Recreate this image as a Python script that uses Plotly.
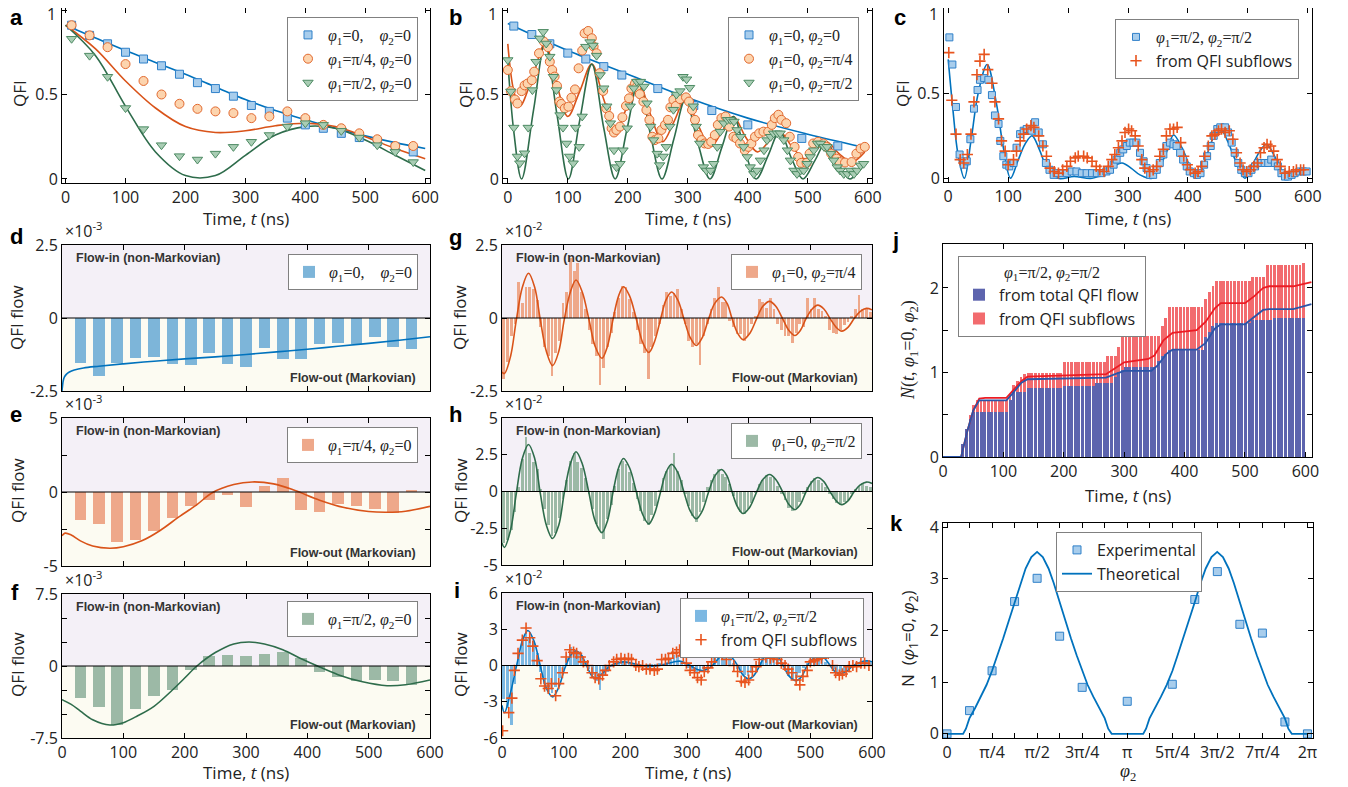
import plotly.graph_objects as go

# ---------------- data ----------------
# (a) QFI vs time, phi2 = 0
a_t = [10, 40, 70, 100, 130, 160, 190, 220, 250, 280, 310, 340, 370, 400, 430, 460, 490, 520, 550, 580]
a_sq = [0.91, 0.85, 0.80, 0.75, 0.71, 0.67, 0.62, 0.57, 0.535, 0.49, 0.435, 0.40, 0.36, 0.32, 0.30, 0.27, 0.245, 0.22, 0.19, 0.16]
a_ci = [0.91, 0.85, 0.78, 0.68, 0.58, 0.50, 0.445, 0.415, 0.40, 0.39, 0.36, 0.37, 0.40, 0.36, 0.32, 0.30, 0.27, 0.235, 0.195, 0.195]
a_tr = [0.83, 0.73, 0.605, 0.42, 0.295, 0.20, 0.135, 0.115, 0.15, 0.19, 0.22, 0.26, 0.31, 0.33, 0.32, 0.285, 0.245, 0.20, 0.16, 0.10]
a_th_t = [0, 50, 100, 150, 200, 250, 300, 350, 400, 450, 500, 550, 600]
a_th_blue = [0.91, 0.835, 0.76, 0.69, 0.62, 0.545, 0.47, 0.405, 0.35, 0.30, 0.255, 0.215, 0.18]
a_th_orange = [0.91, 0.77, 0.58, 0.42, 0.31, 0.275, 0.285, 0.315, 0.33, 0.31, 0.25, 0.18, 0.12]
a_th_green = [0.91, 0.73, 0.43, 0.16, 0.02, 0.02, 0.14, 0.26, 0.31, 0.30, 0.23, 0.14, 0.05]

# (b) QFI vs time, phi1 = 0
b_sq_t = [10, 40, 70, 100, 130, 160, 190, 250, 280, 310, 340, 400, 490, 550]
b_sq = [0.905, 0.855, 0.80, 0.745, 0.71, 0.665, 0.615, 0.535, 0.48, 0.435, 0.405, 0.32, 0.24, 0.195]
b_ci_t = [0, 5, 12, 16, 23, 28, 33, 40, 44, 52, 60, 67, 70, 74, 78, 82, 86, 89, 95, 101,
          106, 112, 118, 124, 128, 134, 140, 143, 148, 153, 159, 164, 169, 173, 177, 181, 187, 191, 197, 202,
          206, 212, 214, 220, 226, 231, 236, 241, 245, 251, 256, 262, 267, 271, 276, 280, 287, 297, 302, 307,
          312, 317, 323, 328, 334, 339, 345, 350, 356, 363, 369, 376, 381, 387, 395, 401, 406, 412, 419, 426,
          434, 440, 445, 451, 456, 464, 470, 478, 484, 489, 498, 503, 509, 517, 526, 531, 539, 548, 553, 562,
          573, 581, 588, 595]
b_ci = [0.645, 0.52, 0.47, 0.447, 0.52, 0.554, 0.565, 0.585, 0.635, 0.744, 0.813, 0.78, 0.694, 0.645, 0.606, 0.551, 0.458, 0.444, 0.418, 0.428,
        0.481, 0.53, 0.655, 0.76, 0.862, 0.876, 0.833, 0.784, 0.744, 0.626, 0.521, 0.418, 0.373, 0.30, 0.275, 0.29, 0.31, 0.365, 0.432, 0.477,
        0.536, 0.565, 0.541, 0.502, 0.458, 0.408, 0.35, 0.25, 0.23, 0.24, 0.29, 0.32, 0.35, 0.424, 0.468, 0.432, 0.473, 0.483, 0.458, 0.408,
        0.35, 0.26, 0.23, 0.21, 0.207, 0.22, 0.26, 0.32, 0.36, 0.37, 0.31, 0.25, 0.24, 0.21, 0.17, 0.19, 0.21, 0.25, 0.27, 0.28,
        0.28, 0.32, 0.36, 0.38, 0.35, 0.33, 0.25, 0.19, 0.13, 0.095, 0.095, 0.15, 0.21, 0.22, 0.21, 0.19, 0.15, 0.12, 0.10, 0.097,
        0.10, 0.15, 0.18, 0.19]
b_tr_t = [0, 5, 10, 16, 20, 28, 34, 41, 47, 53, 59, 64, 70, 76, 81, 87, 92, 98, 103, 109,
          113, 119, 124, 130, 137, 142, 148, 154, 160, 165, 171, 177, 181, 187, 192, 199, 204, 210, 215, 221,
          227, 232, 238, 243, 249, 253, 259, 264, 270, 276, 281, 287, 292, 298, 303, 309, 314, 320, 326, 331,
          338, 343, 349, 354, 360, 366, 371, 377, 382, 388, 393, 399, 404, 410, 415, 421, 427, 432, 438, 443,
          449, 454, 460, 466, 471, 477, 482, 488, 493, 499, 504, 510, 516, 521, 527, 532, 538, 543, 549, 554,
          560, 566, 571, 577, 582, 588, 593]
b_tr = [0.704, 0.518, 0.304, 0.133, 0.093, 0.152, 0.304, 0.526, 0.694, 0.832, 0.871, 0.802, 0.724, 0.605, 0.526, 0.378, 0.304, 0.21, 0.133, 0.093,
        0.304, 0.19, 0.37, 0.783, 0.81, 0.79, 0.73, 0.615, 0.537, 0.43, 0.33, 0.17, 0.07, 0.09, 0.17, 0.30, 0.43, 0.537, 0.576, 0.576,
        0.547, 0.448, 0.31, 0.23, 0.15, 0.082, 0.133, 0.19, 0.31, 0.41, 0.50, 0.52, 0.605, 0.59, 0.54, 0.43, 0.31, 0.21, 0.07, 0.05,
        0.05, 0.09, 0.19, 0.28, 0.33, 0.35, 0.35, 0.34, 0.29, 0.25, 0.19, 0.13, 0.07, 0.03, 0.05, 0.11, 0.17, 0.23, 0.25, 0.27,
        0.27, 0.27, 0.23, 0.17, 0.11, 0.05, 0.03, 0.05, 0.05, 0.09, 0.13, 0.17, 0.21, 0.21, 0.19, 0.19, 0.15, 0.11, 0.07, 0.05,
        0.03, 0.03, 0.05, 0.03, 0.05, 0.08, 0.09]
b_th_blue_t = [0, 100, 200, 300, 400, 500, 590]
b_th_blue = [0.92, 0.76, 0.62, 0.48, 0.36, 0.265, 0.19]
b_th_or_t = [0, 10, 20, 41, 62, 81, 100, 120, 140, 160, 180, 199, 218, 238, 258, 277, 296, 317, 338, 357,
             376, 396, 416, 435, 453, 474, 495, 513, 531, 552, 573, 595]
b_th_or = [0.80, 0.52, 0.43, 0.60, 0.80, 0.57, 0.37, 0.52, 0.68, 0.47, 0.29, 0.43, 0.57, 0.38, 0.22, 0.34, 0.47, 0.32, 0.19, 0.28,
           0.37, 0.25, 0.16, 0.22, 0.28, 0.19, 0.12, 0.17, 0.22, 0.15, 0.10, 0.16]
b_th_gr_t = [0, 10, 23, 43, 62, 82, 101, 120, 140, 160, 179, 199, 218, 238, 257, 277, 296, 317, 337, 357,
             376, 395, 414, 434, 453, 473, 492, 512, 531, 551, 570, 585, 595]
b_th_gr = [0.70, 0.28, 0.0, 0.41, 0.80, 0.38, 0.0, 0.35, 0.68, 0.30, 0.0, 0.30, 0.58, 0.26, 0.0, 0.24, 0.47, 0.21, 0.0, 0.19,
           0.37, 0.17, 0.0, 0.14, 0.28, 0.12, 0.0, 0.11, 0.22, 0.09, 0.0, 0.05, 0.10]

# (c) QFI, phi1 = phi2 = pi/2
c_sq_t = [2, 7, 13, 19, 26, 31, 37, 43, 49, 53, 60, 67, 73, 78, 84, 87, 92, 97, 102, 109,
          114, 120, 126, 131, 139, 145, 151, 158, 163, 169, 176, 181, 190, 198, 206, 214, 223, 231, 240, 248,
          256, 264, 270, 276, 281, 287, 292, 298, 303, 309, 314, 320, 326, 331, 337, 342, 348, 353, 359, 364,
          370, 376, 381, 387, 392, 398, 403, 410, 415, 421, 427, 432, 438, 443, 449, 454, 462, 467, 473, 478,
          484, 489, 495, 501, 506, 512, 517, 523, 528, 534, 539, 545, 550, 556, 562, 567, 573, 578, 586, 592, 598]
c_sq = [0.83, 0.67, 0.42, 0.14, 0.08, 0.10, 0.23, 0.41, 0.52, 0.58, 0.59, 0.58, 0.49, 0.37, 0.32, 0.22, 0.13, 0.08, 0.07, 0.09,
        0.18, 0.26, 0.28, 0.29, 0.28, 0.33, 0.27, 0.20, 0.09, 0.05, 0.02, 0.03, 0.03, 0.03, 0.04, 0.04, 0.03, 0.03, 0.03, 0.03,
        0.03, 0.04, 0.05, 0.08, 0.11, 0.15, 0.17, 0.19, 0.21, 0.21, 0.21, 0.15, 0.10, 0.06, 0.02, 0.02, 0.05, 0.09, 0.14, 0.19,
        0.21, 0.20, 0.19, 0.15, 0.11, 0.07, 0.04, 0.03, 0.02, 0.03, 0.08, 0.13, 0.19, 0.25, 0.29, 0.30, 0.30, 0.27, 0.21, 0.15,
        0.09, 0.05, 0.03, 0.03, 0.05, 0.07, 0.09, 0.09, 0.09, 0.09, 0.11, 0.09, 0.07, 0.03, 0.01, 0.01, 0.02, 0.03, 0.04, 0.04, 0.04]
c_pl_t = [1, 6, 13, 20, 26, 32, 38, 43, 48, 53, 60, 66, 73, 78, 84, 89, 95, 100, 109, 114,
          120, 126, 131, 138, 143, 151, 158, 164, 170, 177, 184, 191, 198, 204, 212, 217, 226, 232, 240, 247,
          253, 260, 267, 273, 278, 284, 290, 295, 301, 306, 312, 317, 323, 328, 336, 342, 348, 353, 359, 364,
          370, 376, 382, 388, 393, 399, 404, 412, 417, 423, 428, 434, 440, 445, 451, 456, 462, 469, 475, 481,
          487, 492, 498, 504, 510, 516, 521, 527, 532, 538, 543, 549, 554, 562, 569, 576, 581, 588, 593]
c_pl = [0.74, 0.46, 0.26, 0.11, 0.09, 0.14, 0.26, 0.45, 0.61, 0.69, 0.73, 0.64, 0.56, 0.45, 0.35, 0.22, 0.16, 0.08, 0.11, 0.16,
        0.22, 0.26, 0.29, 0.31, 0.30, 0.25, 0.19, 0.13, 0.06, 0.04, 0.03, 0.05, 0.07, 0.10, 0.12, 0.13, 0.13, 0.12, 0.10, 0.07,
        0.05, 0.04, 0.07, 0.11, 0.14, 0.18, 0.22, 0.27, 0.29, 0.28, 0.25, 0.19, 0.11, 0.06, 0.04, 0.05, 0.07, 0.13, 0.17, 0.25,
        0.29, 0.29, 0.30, 0.21, 0.13, 0.08, 0.05, 0.03, 0.04, 0.07, 0.13, 0.19, 0.25, 0.26, 0.28, 0.29, 0.27, 0.28, 0.23, 0.15,
        0.09, 0.05, 0.04, 0.05, 0.07, 0.09, 0.15, 0.18, 0.20, 0.19, 0.16, 0.11, 0.07, 0.03, 0.04, 0.04, 0.05, 0.05, 0.05]
c_th_t = [0, 8, 16, 27, 38, 50, 65, 80, 92, 104, 116, 128, 140, 152, 165, 183, 210, 240, 262, 276,
          290, 305, 320, 340, 355, 366, 376, 390, 402, 414, 428, 441, 453, 466, 480, 495, 508, 520, 531, 543,
          555, 566, 580, 598]
c_th = [0.70, 0.40, 0.15, 0.0, 0.22, 0.50, 0.67, 0.45, 0.18, 0.0, 0.10, 0.20, 0.25, 0.17, 0.06, 0.0, 0.01, 0.0, 0.03, 0.07,
        0.09, 0.06, 0.02, 0.0, 0.08, 0.17, 0.255, 0.18, 0.08, 0.0, 0.10, 0.23, 0.30, 0.22, 0.10, 0.0, 0.08, 0.16, 0.20, 0.14,
        0.05, 0.01, 0.02, 0.04]

# (d)-(f) QFI flow, coarse sampling (x1e-3)
def_t = [30, 60, 90, 120, 150, 180, 210, 240, 270, 300, 330, 360, 390, 420, 450, 480, 510, 540, 570]
d_bar = [-1.55, -1.97, -1.55, -1.36, -1.32, -1.59, -1.62, -1.21, -1.59, -1.69, -1.02, -1.40, -1.40, -0.89, -0.87, -0.89, -0.66, -0.98, -1.07]
e_bar = [-1.92, -2.19, -3.40, -3.22, -2.66, -1.74, -0.97, -0.52, -0.23, -1.04, 0.43, 0.95, -1.19, -1.38, -0.79, -0.92, -1.13, -1.42, 0.13]
f_bar = [-3.35, -4.30, -6.10, -4.50, -3.10, -2.50, -0.46, 1.06, 1.16, 1.06, 1.27, 1.48, 0.81, -0.60, -1.13, -1.51, -1.48, -1.58, -1.94]
d_th_t = [0, 1, 2, 4, 7, 12, 20, 35, 60, 100, 150, 200, 250, 300, 350, 400, 450, 500, 550, 600]
d_th = [-2.5, -2.3, -2.15, -2.02, -1.93, -1.85, -1.78, -1.71, -1.65, -1.57, -1.48, -1.40, -1.33, -1.25, -1.16, -1.07, -0.97, -0.87, -0.76, -0.64]
e_th_t = [0, 5, 15, 30, 50, 78, 100, 130, 160, 190, 220, 245, 280, 310, 345, 380, 420, 460, 500, 530, 560, 600]
e_th = [-2.95, -2.78, -2.9, -3.3, -3.65, -3.8, -3.7, -3.3, -2.6, -1.7, -0.85, -0.05, 0.5, 0.68, 0.55, 0.1, -0.55, -1.05, -1.32, -1.37, -1.3, -0.97]
f_th_t = [0, 15, 30, 50, 78, 100, 120, 150, 180, 200, 220, 250, 280, 305, 330, 360, 390, 420, 450, 490, 530, 560, 600]
f_th = [-3.5, -4.0, -4.7, -5.6, -6.15, -5.9, -5.3, -4.2, -2.5, -1.25, 0.0, 1.4, 2.3, 2.5, 2.3, 1.7, 0.75, -0.1, -0.9, -1.65, -2.05, -1.95, -1.45]

# (g)-(i) QFI flow, fine sampling (x1e-2)
t_flow = [3, 9, 15, 21, 27, 33, 39, 45, 51, 57,
          63, 69, 75, 81, 87, 93, 99, 105, 111, 117,
          123, 129, 135, 141, 147, 153, 159, 165, 171, 177,
          183, 189, 195, 201, 207, 213, 219, 225, 231, 237,
          243, 249, 255, 261, 267, 273, 279, 285, 291, 297,
          303, 309, 315, 321, 327, 333, 339, 345, 351, 357,
          363, 369, 375, 381, 387, 393, 399, 405, 411, 417,
          423, 429, 435, 441, 447, 453, 459, 465, 471, 477,
          483, 489, 495, 501, 507, 513, 519, 525, 531, 537,
          543, 549, 555, 561, 567, 573, 579, 585, 591, 597]
g_bar = [-2.1, -1.5, -0.6, -0.2, 1.25, 0.5, 1.05, 1.05, 1.0, 0.6,
         -0.3, -1.0, -1.3, -2.0, -1.2, -0.8, 0.5, 0.9, 2.05, 1.6,
         1.9, 0.9, 0.3, -0.4, -0.9, -1.3, -2.3, -1.7, -1.0, -0.5,
         0.2, 0.7, 1.1, 1.05, 0.65, 0.2, -0.4, -0.9, -1.2, -2.1,
         -1.0, -0.6, -0.2, 0.45, 0.9, 0.75, 0.85, 1.0, 0.3, -0.2,
         -0.8, -1.0, -0.9, -1.6, -0.6, -0.2, 0.3, 0.7, 1.05, 0.55,
         0.55, -0.1, -0.3, -0.55, -0.55, -0.8, -0.6, -0.2, 0.05, 0.65,
         0.55, 0.35, 0.7, 0.3, -0.2, -0.4, -0.6, -0.6, -0.85, -0.5,
         -0.2, -0.3, 0.7, 0.3, 0.7, 0.3, 0.25, 0.05, -0.4, -0.5,
         -0.55, -0.4, -0.25, -0.15, 0.05, 0.3, 0.8, 0.3, 0.35, 0.2]
h_bar = [-3.5, -3.3, -2.6, -1.4, 0.3, 2.2, 3.7, 2.6, 2.0, 1.5,
         0.2, -1.2, -2.3, -3.0, -2.8, -1.8, -0.5, 0.8, 2.1, 2.6,
         2.0, 1.6, 0.9, -0.2, -1.2, -2.2, -2.7, -3.2, -1.9, -0.9,
         0.4, 1.5, 2.1, 1.9, 1.3, 0.6, -0.5, -1.3, -2.0, -2.3,
         -1.6, -1.0, 0.1, 0.9, 1.4, 1.8, 2.6, 1.4, 0.8, -0.2,
         -1.0, -1.7, -2.1, -1.4, -0.7, 0.3, 0.8, 1.2, 1.5, 1.2,
         1.0, 0.5, -0.3, -1.0, -1.4, -1.5, -1.2, -0.8, -0.1, 0.5,
         0.8, 1.1, 1.0, 0.9, 0.4, -0.2, -0.6, -1.1, -1.3, -1.1,
         -0.7, -0.2, 0.3, 0.7, 0.9, 0.8, 0.6, 0.3, -0.2, -0.5,
         -0.8, -0.9, -0.7, -0.6, -0.2, 0.2, 0.4, 0.6, 0.4, 0.3]
i_bar = [-2.8, -3.5, -4.9, -1.5, 1.0, 2.3, 2.8, 2.4, 2.0, 1.0,
         -0.5, -1.5, -2.2, -2.3, -1.8, -1.0, -0.4, 0.6, 1.5, 1.3,
         1.0, 0.9, 0.3, -0.3, -0.8, -1.3, -2.0, -0.9, -0.5, -0.1,
         0.2, 0.3, 0.4, 0.3, 0.2, 0.1, 0.1, 0.0, -0.1, 0.1,
         0.1, 0.1, 0.2, 0.1, 0.3, 0.5, 0.9, 0.9, 0.4, 0.2,
         -0.2, -0.4, -0.5, -0.4, -0.3, -0.1, 0.3, 0.7, 0.8, 1.1,
         0.9, 0.6, 0.2, -0.3, -0.6, -0.8, -0.9, -0.6, -0.2, 0.3,
         0.8, 1.6, 1.2, 0.9, 0.6, 0.1, -0.4, -0.9, -1.2, -1.0,
         -0.6, -0.2, 0.2, 0.5, 0.7, 0.8, 0.6, 0.3, 0.0, -0.3,
         -0.5, -0.6, -0.5, -0.3, -0.1, 0.1, 0.2, 0.3, 0.3, 0.2]
i_pl_t = [1, 11, 16, 20, 26, 33, 39, 45, 50, 57, 63, 69, 75, 80, 87, 92, 98, 104, 110, 116,
          121, 127, 132, 139, 146, 151, 157, 163, 168, 174, 181, 186, 193, 199, 205, 210, 217, 222, 228, 234,
          240, 247, 252, 259, 265, 270, 277, 283, 288, 294, 299, 305, 312, 317, 323, 328, 334, 340, 345, 352,
          357, 364, 369, 376, 382, 388, 394, 400, 406, 412, 417, 423, 428, 435, 440, 446, 453, 459, 464, 470,
          477, 483, 488, 495, 500, 506, 511, 518, 524, 529, 536, 541, 547, 552, 558, 563, 569, 575, 582, 588, 595]
i_pl = [-5.4, -3.9, -2.7, -0.4, 1.0, 2.1, 3.1, 2.3, 1.6, 0.4, -1.1, -1.7, -1.9, -1.5, -2.5, -1.5, -0.6, 0.7, 1.3, 1.1,
        1.0, 0.7, 0.3, 0.0, -0.6, -1.0, -1.1, -0.8, -0.4, 0.0, 0.3, 0.5, 0.6, 0.5, 0.6, 0.5, 0.0, -0.1, 0.0, -0.3,
        -0.3, -0.4, -0.3, 0.5, 0.5, 0.6, 1.0, 1.1, 1.3, 0.8, 0.2, -0.4, -0.6, -1.0, -1.2, -0.5, -0.2, 0.3, 0.7, 1.1,
        1.0, 0.5, 1.2, 0.0, -0.5, -1.3, -1.4, -1.2, -0.5, -0.1, 0.5, 1.1, 0.7, 0.6, 0.7, 0.5, 0.2, 0.0, -0.3, -0.6,
        -1.2, -1.6, -0.9, -0.4, 0.3, 0.4, 0.5, 0.6, 1.0, 1.0, 0.0, -0.6, -0.8, -0.7, -0.5, -0.1, 0.0, -0.1, 0.2, 0.2, 0.0]
gh_th_t = [0, 4, 14, 23, 33, 43, 53, 62, 72, 82, 92, 101, 111, 120, 130, 141, 151, 162, 171, 180,
           189, 197, 207, 218, 228, 238, 247, 257, 266, 275, 285, 295, 305, 315, 325, 335, 345, 356, 365, 373,
           382, 391, 402, 413, 423, 434, 444, 455, 465, 475, 484, 493, 503, 512, 522, 532, 542, 551, 561, 571,
           581, 591, 600]
g_th = [-1.85, -1.9, -1.3, -0.1, 1.05, 1.53, 1.05, -0.05, -1.15, -1.63, -1.15, -0.05, 0.9, 1.3, 0.9, -0.05, -0.97, -1.38, -0.97, -0.05,
        0.75, 1.07, 0.75, -0.05, -0.83, -1.18, -0.83, -0.05, 0.62, 0.89, 0.62, -0.03, -0.66, -0.94, -0.66, -0.03, 0.5, 0.72, 0.5, -0.02,
        -0.52, -0.74, -0.52, -0.02, 0.4, 0.57, 0.4, -0.02, -0.42, -0.6, -0.42, -0.02, 0.31, 0.44, 0.31, -0.02, -0.32, -0.45, -0.32, -0.02,
        0.23, 0.33, 0.28]
h_th = [-3.5, -3.8, -2.6, -0.2, 2.25, 3.2, 2.25, -0.1, -2.3, -3.2, -2.3, -0.1, 1.9, 2.7, 1.9, -0.1, -2.0, -2.8, -2.0, -0.05,
        1.6, 2.25, 1.6, -0.05, -1.55, -2.2, -1.55, -0.05, 1.3, 1.85, 1.3, -0.03, -1.3, -1.85, -1.3, -0.03, 1.05, 1.5, 1.05, -0.02,
        -1.05, -1.5, -1.05, -0.02, 0.82, 1.16, 0.82, -0.02, -0.87, -1.23, -0.87, -0.02, 0.67, 0.95, 0.67, -0.02, -0.64, -0.9, -0.64, -0.02,
        0.45, 0.64, 0.55]
i_th_t = [0, 4, 14, 25, 34, 42, 52, 62, 72, 82, 92, 102, 112, 120, 128, 137, 145, 152, 162, 175,
          187, 198, 210, 222, 235, 248, 260, 272, 282, 290, 300, 310, 318, 325, 335, 345, 353, 362, 372, 382,
          391, 400, 409, 418, 427, 436, 446, 456, 466, 477, 486, 495, 505, 514, 523, 532, 540, 548, 558, 570,
          581, 592, 600]
i_th = [-3.3, -3.9, -2.2, 0.3, 2.2, 2.9, 2.0, 0.0, -1.9, -2.6, -1.8, -0.2, 0.9, 1.2, 0.9, 0.0, -0.8, -1.1, -0.7, -0.05,
        0.2, 0.3, 0.2, 0.05, -0.1, -0.05, 0.05, 0.2, 0.33, 0.35, 0.15, -0.15, -0.35, -0.42, -0.25, 0.2, 0.7, 1.0, 0.7, 0.0,
        -0.8, -1.1, -0.8, 0.0, 0.85, 1.2, 0.85, 0.0, -0.9, -1.25, -0.9, 0.0, 0.6, 0.85, 0.6, 0.0, -0.5, -0.7, -0.5, 0.0,
        0.27, 0.38, 0.3]

# (j) accumulated non-Markovianity
j_blue = [0, 0, 0, 0, 0, 0.15, 0.33, 0.45, 0.535, 0.535,
          0.535, 0.535, 0.535, 0.535, 0.535, 0.535, 0.535, 0.535, 0.67, 0.77,
          0.77, 0.77, 0.77, 0.82, 0.82, 0.82, 0.82, 0.82, 0.82, 0.82,
          0.82, 0.82, 0.82, 0.84, 0.84, 0.84, 0.84, 0.84, 0.84, 0.84,
          0.84, 0.84, 0.87, 0.87, 0.87, 0.87, 0.87, 0.95, 1.0, 1.03,
          1.07, 1.07, 1.07, 1.07, 1.07, 1.07, 1.07, 1.07, 1.07, 1.13,
          1.2, 1.22, 1.27, 1.27, 1.27, 1.27, 1.27, 1.27, 1.27, 1.27,
          1.27, 1.27, 1.42, 1.48, 1.55, 1.58, 1.58, 1.58, 1.58, 1.58,
          1.58, 1.58, 1.58, 1.58, 1.58, 1.62, 1.62, 1.62, 1.62, 1.62,
          1.62, 1.65, 1.65, 1.65, 1.65, 1.65, 1.65, 1.65, 1.65, 1.65]
j_red = [0, 0, 0, 0, 0, 0.15, 0.33, 0.5, 0.62, 0.68,
         0.68, 0.68, 0.68, 0.68, 0.68, 0.68, 0.68, 0.68, 0.75, 0.85,
         0.9, 0.95, 0.98, 0.99, 0.99, 0.99, 0.99, 0.99, 0.99, 0.99,
         0.99, 0.99, 0.99, 1.12, 1.12, 1.12, 1.12, 1.12, 1.12, 1.12,
         1.12, 1.12, 1.12, 1.12, 1.12, 1.2, 1.2, 1.2, 1.3, 1.43,
         1.43, 1.43, 1.43, 1.43, 1.43, 1.43, 1.43, 1.43, 1.43, 1.43,
         1.55, 1.65, 1.77, 1.77, 1.77, 1.77, 1.77, 1.77, 1.77, 1.77,
         1.77, 1.77, 1.87, 1.95, 2.02, 2.08, 2.08, 2.08, 2.08, 2.08,
         2.08, 2.08, 2.08, 2.08, 2.08, 2.13, 2.13, 2.13, 2.13, 2.27,
         2.27, 2.27, 2.27, 2.27, 2.27, 2.27, 2.27, 2.27, 2.27, 2.3]
j_red_th_t = [0, 30, 40, 50, 60, 70, 105, 115, 130, 140, 200, 270, 285, 300, 340, 350, 365, 380, 420, 435, 450, 460, 500, 515, 530, 540, 580, 610]
j_red_th = [0, 0, 0.3, 0.55, 0.69, 0.7, 0.7, 0.78, 0.9, 0.95, 0.96, 0.98, 1.05, 1.12, 1.16, 1.2, 1.38, 1.47, 1.5, 1.6, 1.76, 1.82, 1.82, 1.9, 2.0, 2.02, 2.02, 2.07]
j_blue_th_t = [0, 30, 40, 50, 60, 105, 115, 130, 140, 200, 270, 285, 300, 345, 355, 370, 380, 420, 435, 450, 460, 500, 515, 530, 540, 580, 610]
j_blue_th = [0, 0, 0.3, 0.55, 0.67, 0.67, 0.75, 0.88, 0.92, 0.93, 0.94, 0.98, 1.02, 1.02, 1.08, 1.22, 1.27, 1.27, 1.35, 1.52, 1.57, 1.57, 1.65, 1.74, 1.75, 1.75, 1.81]

# (k) non-Markovianity vs phi2
k_phi = [0, 0.3927, 0.7854, 1.1781, 1.5708, 1.9635, 2.3562, 3.1416, 3.9270, 4.3197, 4.7124, 5.1051, 5.4978, 5.8905, 6.2832]
k_exp = [0.0, 0.45, 1.22, 2.56, 3.01, 1.89, 0.90, 0.63, 0.96, 2.60, 3.14, 2.12, 1.95, 0.23, 0.0]
k_th_x = [0, 0.28, 0.33, 0.39, 0.49, 0.59, 0.69, 0.785, 0.88, 0.98, 1.08, 1.18, 1.28, 1.37, 1.47, 1.57,
          1.67, 1.77, 1.86, 1.96, 2.06, 2.16, 2.26, 2.36, 2.45, 2.55, 2.65, 2.75, 2.81, 2.87,
          3.42, 3.47, 3.53, 3.63, 3.73, 3.83, 3.93, 4.02, 4.12, 4.22, 4.32, 4.42, 4.51, 4.61, 4.71,
          4.81, 4.91, 5.00, 5.10, 5.20, 5.30, 5.40, 5.50, 5.59, 5.69, 5.79, 5.89, 5.95, 6.01, 6.283]
k_th = [0, 0, 0.1, 0.3, 0.5, 0.72, 0.95, 1.22, 1.52, 1.85, 2.2, 2.55, 2.92, 3.2, 3.42, 3.52,
        3.42, 3.2, 2.92, 2.55, 2.2, 1.85, 1.52, 1.22, 0.95, 0.72, 0.5, 0.3, 0.1, 0,
        0, 0.1, 0.3, 0.5, 0.72, 0.95, 1.22, 1.52, 1.85, 2.2, 2.55, 2.92, 3.2, 3.42, 3.52,
        3.42, 3.2, 2.92, 2.55, 2.2, 1.85, 1.52, 1.22, 0.95, 0.72, 0.5, 0.3, 0.1, 0, 0]
k_tick_text = ["0", "", "π/4", "", "π/2", "", "3π/4", "", "π", "", "5π/4", "", "3π/2", "", "7π/4", "", "2π"]
k_tick_vals = [0, 0.3927, 0.7854, 1.1781, 1.5708, 1.9635, 2.3562, 2.7489, 3.1416, 3.5343, 3.9270, 4.3197, 4.7124, 5.1051, 5.4978, 5.8905, 6.2832]

# ---------------- figure ----------------
# the page puts the plot 8 px in from the top-left corner; positions below are
# in screenshot pixels and are shifted back by OFF
OFF = 8
W, H = 1348 - OFF, 787 - OFF
SANS = "Open Sans"
SERIF = "Liberation Serif"
BLUE, ORANGE, GREEN = "#0072BD", "#D95319", "#2E6C4B"
SQ = dict(symbol="square", size=8, color="#A8CDEC", line=dict(color="#2F80C9", width=1))
CI = dict(symbol="circle", size=9, color="#FCD4AE", line=dict(color="#E2692F", width=1))
TR = dict(symbol="triangle-down", size=9, color="#A9CDB4", line=dict(color="#4E8B64", width=1))
PL = dict(symbol="cross-thin", size=8, line=dict(color="#E8541E", width=1.6))
BAR_BLUE, BAR_OR, BAR_GR = "#7DB5D9", "#EEA88A", "#9CB9A6"
LAV, CREAM = "#F4F0F7", "#FCFBF2"


def px(x):
    return (x - OFF) / W


def py(y):
    return 1 - (y - OFF) / H


fig = go.Figure()


def add(n, tr, show=False):
    s = "" if n == 1 else str(n)
    tr.update(xaxis="x" + s, yaxis="y" + s, legend="legend" + s, showlegend=show)
    fig.add_trace(tr)


def phi(a, b, gap=" "):
    return "<i>φ</i><sub>1</sub>=%s,%s<i>φ</i><sub>2</sub>=%s" % (a, gap, b)


def line(x, y, color, width=1.6, smooth=1.0):
    return go.Scatter(x=x, y=y, mode="lines", line=dict(color=color, width=width, shape="spline", smoothing=smooth),
                      hoverinfo="skip")


SUB = '<span style="font-family:Open Sans">from QFI subflows</span>'
# (a)
add(1, line(a_th_t, a_th_blue, BLUE))
add(1, line(a_th_t, a_th_orange, ORANGE))
add(1, line(a_th_t, a_th_green, GREEN))
add(1, go.Scatter(x=a_t, y=a_sq, mode="markers", marker=SQ, name=phi("0", "0", "\u00a0\u00a0\u00a0\u00a0")), True)
add(1, go.Scatter(x=a_t, y=a_ci, mode="markers", marker=CI, name=phi("π/4", "0")), True)
add(1, go.Scatter(x=a_t, y=a_tr, mode="markers", marker=TR, name=phi("π/2", "0")), True)
# (b)
add(2, line(b_th_blue_t, b_th_blue, BLUE))
add(2, line(b_th_or_t, b_th_or, ORANGE))
add(2, line(b_th_gr_t, b_th_gr, GREEN))
add(2, go.Scatter(x=b_sq_t, y=b_sq, mode="markers", marker=SQ, name=phi("0", "0")), True)
add(2, go.Scatter(x=b_ci_t, y=b_ci, mode="markers", marker=CI, name=phi("0", "π/4")), True)
add(2, go.Scatter(x=b_tr_t, y=b_tr, mode="markers", marker=TR, name=phi("0", "π/2")), True)
# (c)
add(3, line(c_th_t, c_th, BLUE))
add(3, go.Scatter(x=c_sq_t, y=c_sq, mode="markers", marker=dict(SQ, size=7), name=phi("π/2", "π/2")), True)
add(3, go.Scatter(x=c_pl_t, y=c_pl, mode="markers", marker=PL, name=SUB), True)
# (d)-(f)
for n, bars, col, tht, th, lc, nm in [(4, d_bar, BAR_BLUE, d_th_t, d_th, BLUE, phi("0", "0", "\u00a0\u00a0\u00a0\u00a0")),
                                      (5, e_bar, BAR_OR, e_th_t, e_th, ORANGE, phi("π/4", "0")),
                                      (6, f_bar, BAR_GR, f_th_t, f_th, GREEN, phi("π/2", "0"))]:
    add(n, go.Bar(x=def_t, y=bars, width=19, marker=dict(color=col, line=dict(width=0)), name=nm), True)
    add(n, line(tht, th, lc))
# (g)-(i)
add(7, go.Bar(x=t_flow, y=g_bar, width=4.4, marker=dict(color=BAR_OR, line=dict(width=0)), name=phi("0", "π/4")), True)
add(7, line(gh_th_t, g_th, ORANGE))
add(8, go.Bar(x=t_flow, y=h_bar, width=4.4, marker=dict(color=BAR_GR, line=dict(width=0)), name=phi("0", "π/2")), True)
add(8, line(gh_th_t, h_th, GREEN))
add(9, go.Bar(x=t_flow, y=i_bar, width=4.4, marker=dict(color="#7CB8E2", line=dict(width=0)), name=phi("π/2", "π/2")), True)
add(9, line(i_th_t, i_th, BLUE))
add(9, go.Scatter(x=i_pl_t, y=i_pl, mode="markers", marker=PL, name=SUB), True)
# (j)
add(10, go.Bar(x=t_flow, y=j_red, width=4.6, marker=dict(color="#F26B6E", line=dict(width=0)),
               name="from QFI subflows", legendrank=2), True)
add(10, go.Bar(x=t_flow, y=j_blue, width=5.0, marker=dict(color="#5D64AE", line=dict(width=0)),
               name="from total QFI flow", legendrank=1), True)
add(10, go.Scatter(x=j_red_th_t, y=j_red_th, mode="lines", line=dict(color="#EC1C24", width=1.8), hoverinfo="skip"))
add(10, go.Scatter(x=j_blue_th_t, y=j_blue_th, mode="lines", line=dict(color="#2B55A8", width=1.8), hoverinfo="skip"))
# (k)
add(11, go.Scatter(x=k_phi, y=k_exp, mode="markers", marker=SQ, name="Experimental"), True)
add(11, go.Scatter(x=k_th_x, y=k_th, mode="lines", line=dict(color=BLUE, width=1.8), name="Theoretical"), True)

# ---------------- axes ----------------
boxes = {1: (62, 430, 8, 183), 2: (503, 872, 8, 183), 3: (944, 1312, 8, 182),
         4: (62, 430, 245, 391), 5: (62, 430, 418, 566), 6: (62, 430, 594, 738),
         7: (502, 872, 245, 391), 8: (502, 872, 418, 565), 9: (502, 872, 593, 738),
         10: (943, 1312, 244, 457), 11: (943, 1313, 523, 738)}
tvals = [0, 100, 200, 300, 400, 500, 600]
tlab = [str(v) for v in tvals]
blank = [""] * 7
xcfg = {1: ([-6, 608], tvals, tlab), 2: ([-8, 607], tvals, tlab), 3: ([-7, 607], tvals, tlab),
        4: ([0, 600], tvals, blank), 5: ([0, 600], tvals, blank), 6: ([0, 600], tvals, tlab),
        7: ([0, 600], tvals, blank), 8: ([0, 600], tvals, blank), 9: ([0, 600], tvals, tlab),
        10: ([0, 611], tvals, tlab), 11: ([-0.07, 6.38], k_tick_vals, k_tick_text)}
# the "1" label of the QFI axes sits at the very top edge; it is drawn as an annotation below
q = ([-0.024, 1.012], [0, 0.5, 1], ["0", "0.5", ""])
ycfg = {1: q, 2: q, 3: ([-0.022, 1.003], [0, 0.5, 1], ["0", "0.5", ""]),
        4: ([-2.5, 2.5], [-2.5, 0, 2.5], ["-2.5", "0", "2.5"]),
        5: ([-5, 5], [-5, -2.5, 0, 2.5, 5], ["-5", "", "0", "", "5"]),
        6: ([-7.5, 7.5], [-7.5, -5, -2.5, 0, 2.5, 5, 7.5], ["-7.5", "", "", "0", "", "", "7.5"]),
        7: ([-2.5, 2.5], [-2.5, 0, 2.5], ["-2.5", "0", "2.5"]),
        8: ([-5, 5], [-5, -2.5, 0, 2.5, 5], ["-5", "-2.5", "0", "2.5", "5"]),
        9: ([-6, 6], [-6, -3, 0, 3, 6], ["-6", "-3", "0", "3", "6"]),
        10: ([0, 2.52], [0, 0.5, 1, 1.5, 2], ["0", "", "1", "", "2"]),
        11: ([-0.08, 4.08], [0, 1, 2, 3, 4], ["0", "1", "2", "3", "4"])}
common = dict(showline=True, linecolor="black", linewidth=1, mirror="ticks", ticks="inside", ticklen=5,
              tickcolor="black", showgrid=False, zeroline=False, automargin=False, ticklabeloverflow="allow",
              tickfont=dict(family=SANS, size=16, color="#222"))
lay = {}
for n, (x0, x1, y0, y1) in boxes.items():
    s = "" if n == 1 else str(n)
    xr, xv, xt = xcfg[n]
    yr, yv, yt = ycfg[n]
    lay["xaxis" + s] = dict(domain=[px(x0), px(x1)], range=xr, anchor="y" + s, tickvals=xv, ticktext=xt, **common)
    lay["yaxis" + s] = dict(domain=[py(y1), py(y0)], range=yr, anchor="x" + s, tickvals=yv, ticktext=yt, **common)


# ---------------- legends ----------------
def leg(x, y, xanchor="right", family=SERIF, **kw):
    return dict(x=px(x), y=py(y), xanchor=xanchor, yanchor="top", bgcolor="white", bordercolor="#808080",
                borderwidth=1, font=dict(family=family, size=16, color="#222"), tracegroupgap=0, **kw)


lay["legend"] = leg(418, 17)
lay["legend2"] = leg(859, 17)
lay["legend3"] = leg(1299, 19)
lay["legend4"] = leg(418, 254)
lay["legend5"] = leg(418, 427)
lay["legend6"] = leg(418, 601)
lay["legend7"] = leg(862, 254)
lay["legend8"] = leg(862, 423)
lay["legend9"] = leg(864, 598)
lay["legend10"] = leg(958, 256, xanchor="left", family=SANS,
                      title=dict(text='<span style="font-family:Liberation Serif">' + phi("π/2", "π/2") + "</span>",
                                 side="top center", font=dict(family=SERIF, size=16)))
lay["legend11"] = leg(1129, 532, xanchor="center", family=SANS)

# ---------------- shapes & annotations ----------------
shapes = []
ann = []
for n in range(4, 10):
    yr = ycfg[n][0]
    shapes.append(dict(type="rect", xref="x%d domain" % n, yref="y%d" % n, x0=0, x1=1, y0=0, y1=yr[1],
                       fillcolor=LAV, line=dict(width=0), layer="below"))
    shapes.append(dict(type="rect", xref="x%d domain" % n, yref="y%d" % n, x0=0, x1=1, y0=yr[0], y1=0,
                       fillcolor=CREAM, line=dict(width=0), layer="below"))
    shapes.append(dict(type="line", xref="x%d domain" % n, yref="y%d" % n, x0=0, x1=1, y0=0, y1=0,
                       line=dict(color="black", width=1), layer="above"))
    ann.append(dict(xref="x%d domain" % n, yref="y%d domain" % n, x=0.032, y=1, xanchor="left", yanchor="top",
                    yshift=-4, showarrow=False, text="<b>Flow-in (non-Markovian)</b>",
                    font=dict(family="Liberation Sans", size=12.5, color="#333")))
    ann.append(dict(xref="x%d domain" % n, yref="y%d domain" % n, x=0.968, y=0, xanchor="right", yanchor="bottom",
                    yshift=4, showarrow=False, text="<b>Flow-out (Markovian)</b>",
                    font=dict(family="Liberation Sans", size=12.5, color="#333")))
    x0, _, y0, _ = boxes[n]
    ann.append(dict(xref="paper", yref="paper", x=px(x0 + 1), y=py(y0 - 1), xanchor="left", yanchor="bottom",
                    showarrow=False, text="×10<sup>-%d</sup>" % (3 if n < 7 else 2),
                    font=dict(family=SANS, size=16, color="#222")))


def txt(x, y, s, size=17, family=SANS, angle=0, xanchor="center", color="#222"):
    ann.append(dict(xref="paper", yref="paper", x=px(x), y=py(y), text=s, showarrow=False, textangle=angle,
                    xanchor=xanchor, yanchor="middle", font=dict(family=family, size=size, color=color)))


for n in (1, 2, 3):
    txt(boxes[n][0] - 4, 14, "1", size=16, xanchor="right")
for cx in (246, 688, 1128):
    txt(cx, 218, "Time, <i>t</i> (ns)")
for cx in (246, 688):
    txt(cx, 772, "Time, <i>t</i> (ns)")
txt(1128, 495, "Time, <i>t</i> (ns)")
for cx in (20, 466, 903):
    txt(cx, 94, "QFI", angle=-90)
for cx in (17, 460):
    for cy in (318, 491, 665):
        txt(cx, cy, "QFI flow", angle=-90)
txt(910, 350, "<i>N</i>(<i>t</i>, <i>φ</i><sub>1</sub>=0, <i>φ</i><sub>2</sub>)", family=SERIF, size=18, angle=-90)
txt(908, 639, "N  (<i>φ</i><sub>1</sub>=0, <i>φ</i><sub>2</sub>)", angle=-90)
txt(1128, 772, "<i>φ</i><sub>2</sub>", family=SERIF, size=18)
for letter, lx, ly in [("a", 8, 24), ("b", 447, 24), ("c", 892, 24), ("d", 8, 243), ("g", 447, 244),
                       ("j", 890, 247), ("e", 8, 422), ("h", 447, 422), ("k", 888, 530), ("f", 9, 599), ("i", 452, 597)]:
    txt(lx, ly - 7, "<b>%s</b>" % letter, size=22, family="Liberation Sans", xanchor="left", color="black")

fig.update_layout(width=W, height=H, margin=dict(l=0, r=0, t=0, b=0), template="none",
                  paper_bgcolor="white", plot_bgcolor="white", barmode="overlay", bargap=0,
                  shapes=shapes, annotations=ann, font=dict(family=SANS), **lay)

fig.write_html("out.html")
